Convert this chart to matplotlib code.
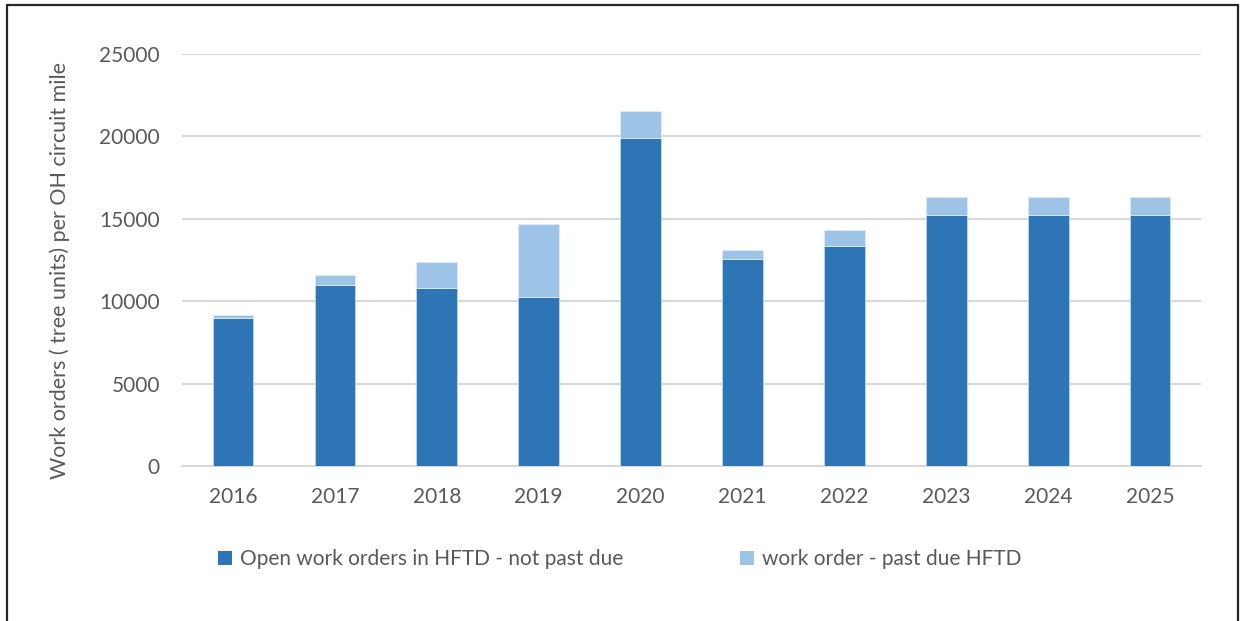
import matplotlib
matplotlib.use("Agg")
import matplotlib.pyplot as plt
from matplotlib.patches import Rectangle, Patch

years = ["2016", "2017", "2018", "2019", "2020", "2021", "2022", "2023", "2024", "2025"]
not_past_due = [9000, 11000, 10800, 10250, 19900, 12550, 13350, 15250, 15250, 15250]
past_due = [200, 600, 1600, 4450, 1650, 550, 1000, 1100, 1100, 1100]

series_labels = ["Open work orders in HFTD - not past due", "work order - past due HFTD"]
dark_blue = "#2E75B6"
light_blue = "#9DC3E6"
text_gray = "#595959"
grid_gray = "#D9D9D9"

plt.rcParams["font.family"] = ["Lato", "DejaVu Sans"]
fs = 15

fig = plt.figure(figsize=(12.41, 6.21), dpi=100)
ax = fig.add_axes([0.1467, 0.2488, 0.8211, 0.6643])

x = range(len(years))
ax.bar(x, not_past_due, width=0.4, color=dark_blue, edgecolor="#BDD7EE",
       linewidth=0.6, zorder=3)
ax.bar(x, past_due, width=0.4, bottom=not_past_due, color=light_blue,
       edgecolor="#DEEBF7", linewidth=0.6, zorder=3)

ax.set_xlim(-0.5, len(years) - 0.5)
ax.set_ylim(0, 25000)
ax.set_yticks(range(0, 25001, 5000))
ax.set_xticks(list(x))
ax.set_xticklabels(years)

ax.yaxis.grid(True, color=grid_gray, linewidth=1.5, zorder=0)
ax.set_axisbelow(True)
for side in ("top", "right", "left"):
    ax.spines[side].set_visible(False)
ax.spines["bottom"].set_color(grid_gray)
ax.spines["bottom"].set_linewidth(1.5)
ax.tick_params(axis="both", length=0, labelsize=fs, colors=text_gray)
ax.tick_params(axis="y", pad=16)
ax.tick_params(axis="x", pad=15)

fig.text(60 / 1241, 1 - 271 / 621, "Work orders ( tree units) per OH circuit mile",
         rotation=90, ha="center", va="center", fontsize=15.5, color=text_gray)

handles = [Patch(facecolor=dark_blue, edgecolor="none"),
           Patch(facecolor=light_blue, edgecolor="none")]
fig.legend(handles, series_labels, loc="center", bbox_to_anchor=(620 / 1241, 1 - 559 / 621),
           ncol=2, frameon=False, fontsize=fs, labelcolor=text_gray,
           handlelength=0.65, handleheight=0.65, handletextpad=0.4, columnspacing=5.6)

# outer frame around the chart
fig.patches.append(Rectangle((7 / 1241, -0.05), (1238 - 7) / 1241, 1.05 - 5 / 621,
                             transform=fig.transFigure, fill=False,
                             edgecolor="#262626", linewidth=1.6))

fig.savefig("out.png", dpi=100, facecolor="white")
